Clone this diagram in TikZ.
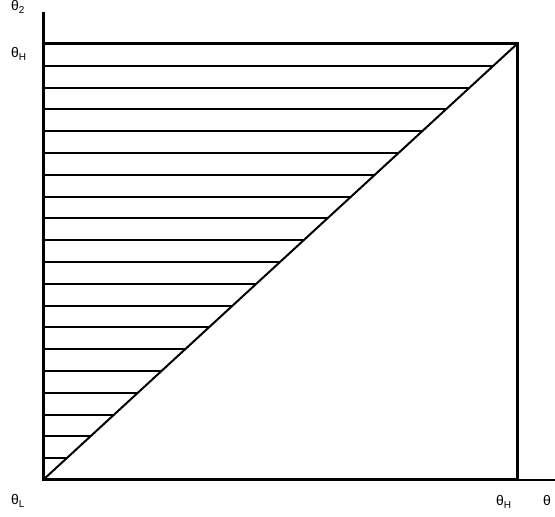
\documentclass[tikz,border=0pt]{standalone}
\usepackage{fontspec}
\setmainfont{Liberation Sans}
\newcommand\lowsub[1]{\raisebox{-3pt}{\fontsize{10}{10}\selectfont #1}}
\begin{document}
\begin{tikzpicture}[x=1pt,y=1pt,
  frame/.style={line width=3pt},
  thinaxis/.style={line width=2pt},
  hatch/.style={line width=2pt},
  lbl/.style={anchor=base west,inner sep=0pt,font=\fontsize{14}{14}\selectfont}]
\useasboundingbox (0,0) rectangle (555,517);
\coordinate (O) at (43,37);
\coordinate (TL) at (43,473);
\coordinate (TR) at (517,473);
\coordinate (BR) at (517,37);
\coordinate (YT) at (43,505);
\coordinate (XE) at (555,37);
% hatching
\foreach \i in {1,...,19}{
  \pgfmathsetmacro\yy{37+\i*21.8}
  \pgfmathsetmacro\xx{43+\i*21.8*1.087156}
  \draw[hatch] (43,\yy) -- (\xx,\yy);
}
\draw[hatch] (O) -- (TR);
\draw[thinaxis] (BR) -- (XE);
\draw[frame] (YT) -- (O) -- (BR) -- (TR) -- (TL);
\node[lbl] (t2) at (11,506) {θ\lowsub{2}};
\node[lbl] (tHl) at (11,459) {θ\lowsub{H}};
\node[lbl] (tL) at (11,12) {θ\lowsub{L}};
\node[lbl] (tHb) at (496,11) {θ\lowsub{H}};
\node[lbl] (t1) at (543,11) {θ};
\end{tikzpicture}
\end{document}
